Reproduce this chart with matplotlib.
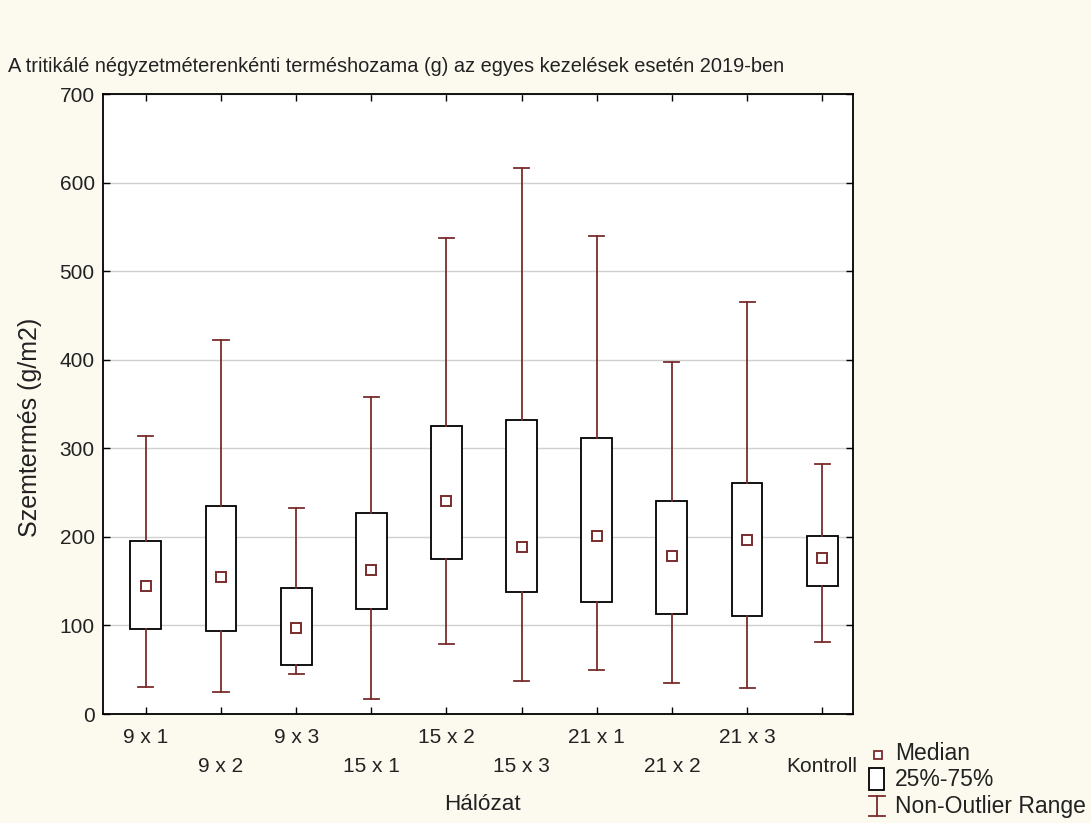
import matplotlib
matplotlib.use('Agg')
import matplotlib.pyplot as plt
import matplotlib.transforms as mtransforms
from matplotlib.patches import Rectangle

# kezelések és a dobozábra értékei (g/m2)
kezelesek = ['9 x 1', '9 x 2', '9 x 3', '15 x 1', '15 x 2', '15 x 3',
             '21 x 1', '21 x 2', '21 x 3', 'Kontroll']
median = [145, 155, 97, 163, 241, 188, 201, 178, 196, 176]
q1 = [96, 94, 55, 118, 175, 138, 126, 113, 111, 144]
q3 = [195, 235, 142, 227, 325, 332, 312, 240, 261, 201]
whis_lo = [31, 25, 45, 17, 79, 37, 50, 35, 29, 81]
whis_hi = [314, 422, 233, 358, 537, 616, 540, 397, 465, 282]
y_ticks = [0, 100, 200, 300, 400, 500, 600, 700]

piros = '#7a2c2c'
hatter = '#fcf9ef'

plt.rcParams['font.family'] = ['Liberation Sans', 'DejaVu Sans']
plt.rcParams['text.color'] = '#222222'

fig = plt.figure(figsize=(10.91, 8.23), dpi=100, facecolor=hatter)
ax = fig.add_axes([103/1091, 1-714/823, 750/1091, 620/823])

pos = list(range(1, len(kezelesek)+1))
stats = []
for i in range(len(kezelesek)):
    stats.append(dict(med=median[i], q1=q1[i], q3=q3[i],
                      whislo=whis_lo[i], whishi=whis_hi[i], fliers=[]))

ax.bxp(stats, positions=pos, widths=0.41, capwidths=0.2, patch_artist=True,
       boxprops=dict(facecolor='white', edgecolor='black', linewidth=1.3),
       whiskerprops=dict(color=piros, linewidth=1.3),
       capprops=dict(color=piros, linewidth=1.3),
       medianprops=dict(visible=False), zorder=3)
ax.plot(pos, median, ls='none', marker='s', ms=7, mfc='white', mec=piros, mew=1.4, zorder=4)

ax.set_xlim(0.43, 10.41)
ax.set_ylim(0, 700)
ax.set_yticks(y_ticks)
ax.set_xticks(pos)
ax.set_xticklabels(kezelesek)
ax.grid(axis='y', color='#d0d0d0', linewidth=1)
ax.set_axisbelow(True)
ax.tick_params(direction='in', top=True, right=True, length=5, width=1,
               labelcolor='#222222')
ax.tick_params(axis='x', pad=10, labelsize=15)
ax.tick_params(axis='y', pad=6, labelsize=15)
for s in ax.spines.values():
    s.set_linewidth(1.3)

# lépcsőzetes x feliratok
eltol = mtransforms.ScaledTranslation(0, -0.29, fig.dpi_scale_trans)
for i, lab in enumerate(ax.get_xticklabels()):
    if i % 2 == 1:
        lab.set_transform(lab.get_transform() + eltol)

fig.text(30/1091, 1-427/823, 'Szemtermés (g/m2)', rotation=90, ha='center', va='center', fontsize=18)
fig.text(482/1091, 1-805/823, 'Hálózat', ha='center', va='center', fontsize=16.2)
fig.text(8/1091, 1-66/823, 'A tritikálé négyzetméterenkénti terméshozama (g) az egyes kezelések esetén 2019-ben',
         ha='left', va='center', fontsize=14.4)

# jelmagyarázat
lax = fig.add_axes([0, 0, 1, 1], facecolor='none')
lax.set_xlim(0, 1091)
lax.set_ylim(823, 0)
lax.axis('off')
lax.plot([878], [755], marker='s', ms=6, mfc='white', mec=piros, mew=1.3)
lax.add_patch(Rectangle((869, 768), 15, 22, facecolor='white', edgecolor='black', lw=1.3))
lax.plot([877, 877], [796, 816], color=piros, lw=1.3)
lax.plot([869, 885], [796, 796], color=piros, lw=1.3)
lax.plot([869, 885], [816, 816], color=piros, lw=1.3)
lax.text(895, 754, 'Median', va='center', fontsize=16.5)
lax.text(895, 779, '25%-75%', va='center', fontsize=16.5)
lax.text(895, 806, 'Non-Outlier Range', va='center', fontsize=16.5)

fig.savefig('out.png', dpi=100, facecolor=hatter)
